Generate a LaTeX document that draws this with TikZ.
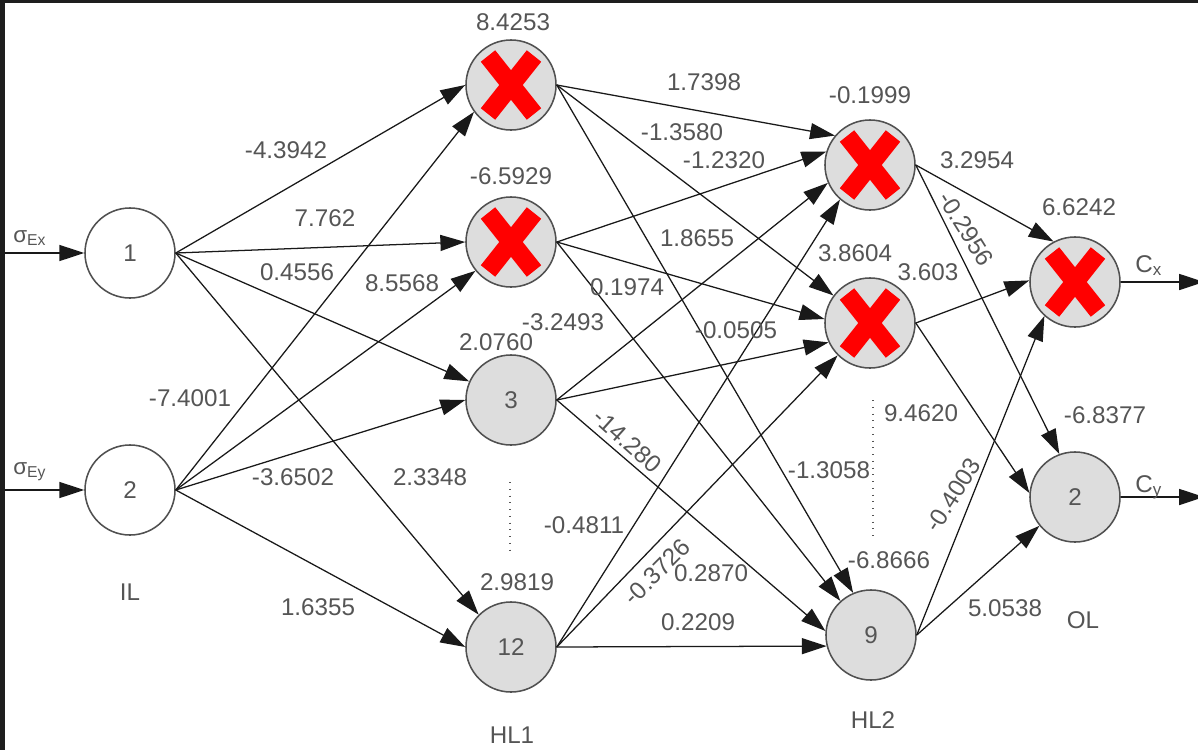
\documentclass[tikz,border=0pt]{standalone}
\usepackage{fontspec}
\setmainfont{Liberation Sans}
\usetikzlibrary{arrows.meta}
\definecolor{netFrame}{RGB}{30,30,30}
\definecolor{netFill}{RGB}{221,221,221}
\definecolor{netRim}{RGB}{80,80,80}
\definecolor{netText}{RGB}{85,85,85}
\definecolor{netWire}{RGB}{25,25,25}
\definecolor{netRed}{RGB}{255,0,0}
\newcommand{\netfont}{\fontsize{17.2}{20}\selectfont}
\newcommand{\sigfont}{\fontsize{16}{18}\selectfont}

\begin{document}
\begin{tikzpicture}[x=0.025cm,y=-0.025cm,
    unit/.style={circle,draw=netRim,line width=1.1pt,fill=netFill,minimum size=2.25cm,inner sep=0pt,font=\netfont,text=netText},
    inunit/.style={unit,fill=white},
    wire/.style={draw=netWire,line width=0.9pt,-{Triangle[length=0.62cm,width=0.4cm]}},
    wlab/.style={font=\netfont,text=netText,inner sep=0pt},
    dotline/.style={draw=netText,line width=0.8pt,dash pattern=on 0.8pt off 4pt},
    killmark/.pic={
      \draw[netRed,line width=0.46cm] (-23,-29) -- (23,29);
      \draw[netRed,line width=0.46cm] (23,-29) -- (-23,29);
    }
  ]
    \useasboundingbox (0,0) rectangle (1198,750);
    \fill[netFrame] (0,0) rectangle (1198,750);
    \fill[white] (5,3) rectangle (1198,750);

    \node[inunit] (il1) at (130,253) {1};
    \node[inunit] (il2) at (130,490) {2};
    \node[unit] (ha1) at (511,85) {};
    \node[unit] (ha2) at (511,242) {};
    \node[unit] (ha3) at (511,400) {3};
    \node[unit] (ha12) at (511,647) {12};
    \node[unit] (hb1) at (870,165) {};
    \node[unit] (hb2) at (870,323) {};
    \node[unit] (hb9) at (871,635) {9};
    \node[unit] (ol1) at (1075,282) {};
    \node[unit] (ol2) at (1075,497) {2};
    \pic at (ha1) {killmark};
    \pic at (ha2) {killmark};
    \pic at (hb1) {killmark};
    \pic at (hb2) {killmark};
    \pic at (ol1) {killmark};

    \coordinate (sx) at (5,253);
    \coordinate (sy) at (5,490);
    \coordinate (cx) at (1204,282);
    \coordinate (cy) at (1204,497);
    \draw[wire] (sx) -- (il1.west);
    \draw[wire] (sy) -- (il2.west);
    \draw[wire] (ol1.east) -- (cx);
    \draw[wire] (ol2.east) -- (cy);

    \draw[wire] (il1.east) -- (ha1.180);
    \draw[wire] (il1.east) -- (ha2.180);
    \draw[wire] (il1.east) -- (ha3.156);
    \draw[wire] (il1.east) -- (ha12.135);
    \draw[wire] (il2.east) -- (ha1.216);
    \draw[wire] (il2.east) -- (ha2.219);
    \draw[wire] (il2.east) -- (ha3.180);
    \draw[wire] (il2.east) -- (ha12.180);

    \draw[wire] (ha1.east) -- (hb1.140);
    \draw[wire] (ha1.east) -- (hb2.143);
    \draw[wire] (ha1.east) -- (hb9.113);
    \draw[wire] (ha2.east) -- (hb1.163);
    \draw[wire] (ha2.east) -- (hb2.175);
    \draw[wire] (ha2.east) -- (hb9.132);
    \draw[wire] (ha3.east) -- (hb1.203);
    \draw[wire] (ha3.east) -- (hb2.205);
    \draw[wire] (ha3.east) -- (hb9.175);
    \draw[wire] (ha12.east) -- (hb1.229);
    \draw[wire] (ha12.east) -- (hb2.225);
    \draw[wire] (ha12.east) -- (hb9.194);

    \draw[wire] (hb1.east) -- (ol1.118);
    \draw[wire] (hb1.east) -- (ol2.110);
    \draw[wire] (hb2.east) -- (ol1.178);
    \draw[wire] (hb2.east) -- (ol2.175);
    \draw[wire] (hb9.east) -- (ol1.228);
    \draw[wire] (hb9.east) -- (ol2.219);

    \draw[dotline] (510,482) -- (510,552);
    \draw[dotline] (873,400) -- (873,537);

    \node[wlab,font=\sigfont,anchor=base west] (sigx) at (13,242) {σ\textsubscript{Ex}};
    \node[wlab,font=\sigfont,anchor=base west] (sigy) at (13,474) {σ\textsubscript{Ey}};
    \node[wlab,anchor=base west] (outx) at (1135,272) {C\textsubscript{x}};
    \node[wlab,anchor=base west] (outy) at (1135,492) {C\textsubscript{y}};

    \node[wlab] (ilname) at (130,592) {IL};
    \node[wlab] (hl1name) at (512,735) {HL1};
    \node[wlab] (hl2name) at (873,720) {HL2};
    \node[wlab] (olname) at (1083,620) {OL};

    \node[wlab] (bha1) at (513,22) {8.4253};
    \node[wlab] (bha2) at (511,176) {-6.5929};
    \node[wlab] (bha3) at (496,342) {2.0760};
    \node[wlab] (bha12) at (517,582) {2.9819};
    \node[wlab] (bhb1) at (870,95) {-0.1999};
    \node[wlab] (bhb2) at (855,253) {3.8604};
    \node[wlab] (bhb9) at (889,560) {-6.8666};
    \node[wlab] (bol1) at (1079,207) {6.6242};
    \node[wlab] (bol2) at (1105,415) {-6.8377};

    \node[wlab] (wa1) at (286,150) {-4.3942};
    \node[wlab] (wa2) at (325,218) {7.762};
    \node[wlab] (wa3) at (297,272) {0.4556};
    \node[wlab] (wa4) at (402,283) {8.5568};
    \node[wlab] (wa5) at (190,398) {-7.4001};
    \node[wlab] (wa6) at (293,477) {-3.6502};
    \node[wlab] (wa7) at (430,477) {2.3348};
    \node[wlab] (wa8) at (318,607) {1.6355};

    \node[wlab] (wb1) at (704,82) {1.7398};
    \node[wlab] (wb2) at (682,132) {-1.3580};
    \node[wlab] (wb3) at (724,160) {-1.2320};
    \node[wlab] (wb4) at (697,238) {1.8655};
    \node[wlab] (wb5) at (627,287) {0.1974};
    \node[wlab] (wb6) at (563,322) {-3.2493};
    \node[wlab] (wb7) at (736,330) {-0.0505};
    \node[wlab,rotate=-42] (wb8) at (628,441) {-14.280};
    \node[wlab] (wb9) at (829,470) {-1.3058};
    \node[wlab] (wb10) at (584,525) {-0.4811};
    \node[wlab,rotate=45] (wb11) at (657,572) {-0.3726};
    \node[wlab] (wb12) at (711,573) {0.2870};
    \node[wlab] (wb13) at (698,622) {0.2209};

    \node[wlab] (wc1) at (977,160) {3.2954};
    \node[wlab,rotate=-58] (wc2) at (966,229) {-0.2956};
    \node[wlab] (wc3) at (928,272) {3.603};
    \node[wlab] (wc4) at (921,413) {9.4620};
    \node[wlab,rotate=57] (wc5) at (953,495) {-0.4003};
    \node[wlab] (wc6) at (1005,608) {5.0538};
  \end{tikzpicture}
\end{document}
